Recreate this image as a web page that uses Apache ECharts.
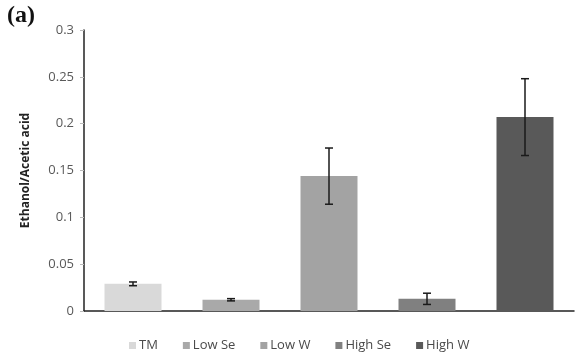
<!DOCTYPE html>
<html><head><meta charset="utf-8">
<script src="https://cdn.jsdelivr.net/npm/echarts@6/dist/echarts.min.js"></script>
<style>html,body{margin:0;padding:0;background:#fff}#c{width:576px;height:358px}</style>
</head><body><div id="c"></div>
<script>
const categories = ["TM", "Low Se", "Low W", "High Se", "High W"];
const values = [0.029, 0.012, 0.144, 0.013, 0.207];
const errors = [0.002, 0.0012, 0.030, 0.006, 0.041];
const colors = ["#d9d9d9", "#a9a9a9", "#a3a3a3", "#808080", "#595959"];
const yTicks = [0, 0.05, 0.1, 0.15, 0.2, 0.25, 0.3];

const chart = echarts.init(document.getElementById('c'));
const series = categories.map((name, i) => ({
  name: name, type: 'bar', barWidth: 57, barGap: '-100%',
  itemStyle: { color: colors[i] },
  data: categories.map((_, j) => j === i ? values[i] : '-')
}));
series.push({
  type: 'custom', name: 'err', z: 10,
  renderItem: function (params, api) {
    const x = api.value(0), v = api.value(1), e = api.value(2);
    const hi = api.coord([x, v + e]), lo = api.coord([x, v - e]);
    const w = 4;
    const st = { stroke: '#1a1a1a', lineWidth: 1.5 };
    return { type: 'group', children: [
      { type: 'line', shape: { x1: hi[0], y1: hi[1], x2: lo[0], y2: lo[1] }, style: st },
      { type: 'line', shape: { x1: hi[0]-w, y1: hi[1], x2: hi[0]+w, y2: hi[1] }, style: st },
      { type: 'line', shape: { x1: lo[0]-w, y1: lo[1], x2: lo[0]+w, y2: lo[1] }, style: st }
    ]};
  },
  data: values.map((v, i) => [i, v, errors[i]])
});

chart.setOption({
  animation: false,
  backgroundColor: '#fff',
  grid: { left: 84, right: 2, top: 30, bottom: 47 },
  graphic: [{ type: 'text', left: 7, top: 4, style: { text: '(a)', font: 'bold 24px "Liberation Serif", serif', fill: '#111' } }],
  legend: {
    data: categories, bottom: 1, left: 124, itemWidth: 7, itemHeight: 7, itemGap: 25,
    icon: 'rect', textStyle: { color: '#4a4a4a', fontSize: 13, padding: [0, 0, 0, -2], fontFamily: '"Open Sans", sans-serif' }
  },
  xAxis: {
    type: 'category', data: categories,
    axisLine: { lineStyle: { color: '#222', width: 1.5 } },
    axisTick: { show: false }, axisLabel: { show: false }
  },
  yAxis: {
    type: 'value', min: 0, max: 0.3, interval: 0.05,
    name: 'Ethanol/Acetic acid', nameLocation: 'middle', nameGap: 52, nameRotate: 90,
    nameTextStyle: { fontWeight: 'bold', fontSize: 12, color: '#222', fontFamily: '"Open Sans", sans-serif' },
    axisLine: { show: true, lineStyle: { color: '#222', width: 1.5 } },
    axisTick: { show: true, length: 4, lineStyle: { color: '#bbb' } },
    splitLine: { show: false },
    axisLabel: { color: '#595959', fontSize: 13, margin: 10, fontFamily: '"Open Sans", sans-serif',
      formatter: v => { const t = yTicks.find(k => Math.abs(k - v) < 1e-9); return t === undefined ? '' : String(t); } }
  },
  series: series
});
</script></body></html>
